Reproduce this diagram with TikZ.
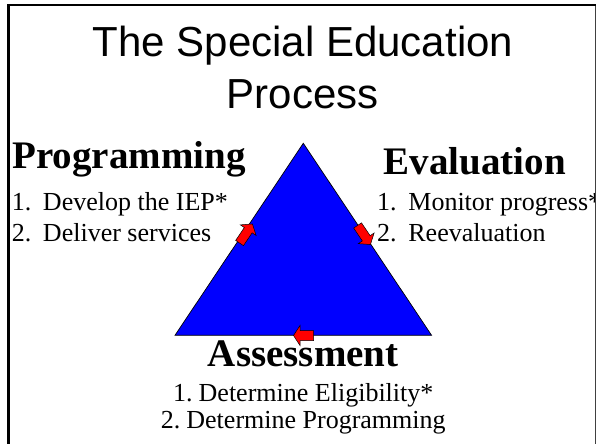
\documentclass[tikz,border=0pt]{standalone}
\usepackage{fontspec}
\setmainfont{Liberation Serif}
\newfontfamily\titlefont{Liberation Sans}
\begin{document}
\begin{tikzpicture}[x=1pt,y=-1pt,
  txt/.style={inner sep=0pt, outer sep=0pt},
  heading/.style={txt, font=\fontsize{39}{44}\selectfont\bfseries},
  item/.style={txt, font=\fontsize{26}{30}\selectfont},
  titletxt/.style={txt, font=\titlefont\fontsize{42}{50}\selectfont},
  tri/.style={fill=blue, draw=black, line width=0.7pt, line join=miter},
  redarrow/.style={fill=red, draw=black, line width=0.5pt, line join=miter},
  blockarrow/.pic={\filldraw[redarrow] (-11.5,-4.7) -- (4,-4.7) -- (4,-9.5) -- (11.5,0) -- (4,9.5) -- (4,4.7) -- (-11.5,4.7) -- cycle;},
  smallarrow/.pic={\filldraw[redarrow] (-10,-5) -- (3.5,-5) -- (3.5,-10) -- (10,0) -- (3.5,10) -- (3.5,5) -- (-10,5) -- cycle;},
]
\useasboundingbox (0,0) rectangle (597,444);
\begin{scope}
\clip (0,0) rectangle (595,444);
% title
\node[titletxt, anchor=base] (title1) at (303,56.7) {The Special Education};
\node[titletxt, anchor=base] (title2) at (302.6,108.3) {Process};
% triangle
\coordinate (apex) at (303.3,143.3);
\coordinate (bl) at (175,335.3);
\coordinate (br) at (431.6,335.3);
\filldraw[tri] (apex) -- (br) -- (bl) -- cycle;
% arrows
\pic[rotate=56] at (246,233.5) {blockarrow};
\pic[rotate=-56] at (364,235) {blockarrow};
\pic[rotate=180] at (303.5,335.5) {smallarrow};
% Programming
\node[heading, anchor=base west] (prog) at (12.5,168.3) {Programming};
\node[item, anchor=base west] (prog1) at (12,210) {\makebox[31pt][l]{1.}Develop the IEP*};
\node[item, anchor=base west] (prog2) at (12,241.7) {\makebox[31pt][l]{2.}Deliver services};
% Evaluation
\node[heading, anchor=base west] (eval) at (383.7,174.3) {Evaluation};
\node[item, anchor=base west] (eval1) at (377,210.7) {\makebox[31.4pt][l]{1.}Monitor progress*};
\node[item, anchor=base west] (eval2) at (377,241.7) {\makebox[31.4pt][l]{2.}Reevaluation};
% Assessment
\node[heading, anchor=base] (assess) at (303.3,366.7) {Assessment};
\node[item, anchor=base] (assess1) at (303.3,401.7) {1.\hspace{6pt}Determine Eligibility*};
\node[item, anchor=base] (assess2) at (303.3,428.3) {2.\hspace{6pt}Determine Programming};
\end{scope}
% frame
\draw[line width=1pt, black!75] (595.5,444) -- (595.5,5);
\draw[line width=1.2pt] (8.7,5) -- (595.5,5);
\draw[line width=2.6pt] (8.7,4.4) -- (8.7,444);
\end{tikzpicture}
\end{document}
